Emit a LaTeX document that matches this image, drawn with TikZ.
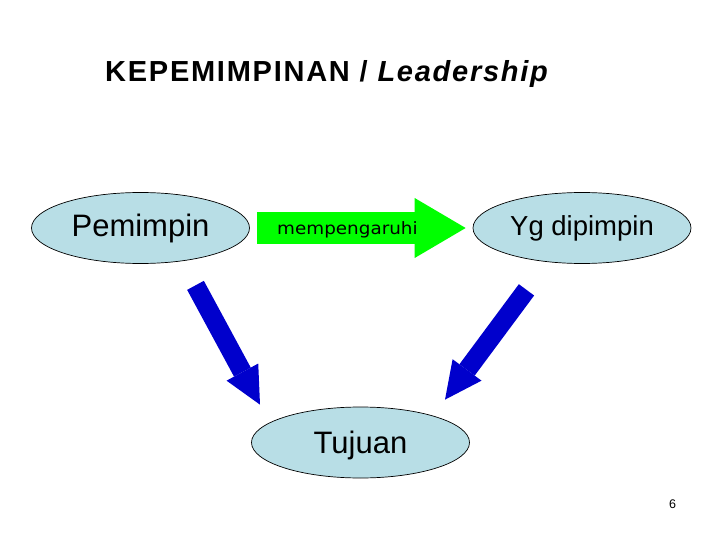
\documentclass[tikz,border=0pt]{standalone}
\usepackage{fontspec}
\setmainfont{Liberation Sans}
\newfontfamily\titlefont[LetterSpace=6]{Liberation Sans}
\newfontfamily\verbfont[FakeStretch=1.08]{DejaVu Sans}
\usepackage{tikz}
\usetikzlibrary{positioning,arrows.meta,shapes.geometric,calc}
\definecolor{roleFill}{HTML}{B8DEE6}
\definecolor{influenceGreen}{HTML}{00FF00}
\definecolor{goalBlue}{HTML}{0000CC}

\begin{document}
\begin{tikzpicture}[x=1pt, y=-1pt,
  role/.style={draw, ellipse, fill=roleFill, line width=0.7pt, inner sep=0pt,
    minimum width=218pt, minimum height=71pt},
  towardgoal/.style={goalBlue, line width=19pt,
    -{Triangle[width=36pt, length=37pt, line width=0pt]}}]
  \useasboundingbox (0,0) rectangle (720,540);

  \node[anchor=base west, inner sep=0pt, font=\titlefont\bfseries\fontsize{29}{34}\selectfont] (title) at (105,82)
    {KEPEMIMPINAN / \textit{Leadership}};

  \node[role, font=\fontsize{31}{36}\selectfont] (lead) at (140.5,228) {Pemimpin};
  \node[role, font=\fontsize{27.5}{32}\selectfont] (follower) at (582,228) {Yg dipimpin};
  \node[role, text depth=0pt, font=\fontsize{31}{36}\selectfont] (goal) at (360.5,442.5) {Tujuan};

  % Influence
  \draw[influenceGreen, line width=31pt, -{Triangle[width=60pt, length=51pt, line width=0pt]}]
    ($(lead.east)+(7,0)$) -- ($(follower.west)+(-7,0)$);
  \node[anchor=base west, inner sep=0pt, font=\verbfont\fontsize{17}{20}\selectfont] (influence) at (277,234) {mempengaruhi};

  % Toward the goal
  \draw[towardgoal] ($(lead.south)+(55,21.5)$) -- ($(goal.north)+(-100.5,-2)$);
  \draw[towardgoal] ($(follower.south)+(-55.5,26)$) -- ($(goal.north)+(84.5,-7)$);

  \node[font=\fontsize{12.5}{15}\selectfont] (page) at (672.5,504.5) {6};
\end{tikzpicture}
\end{document}
